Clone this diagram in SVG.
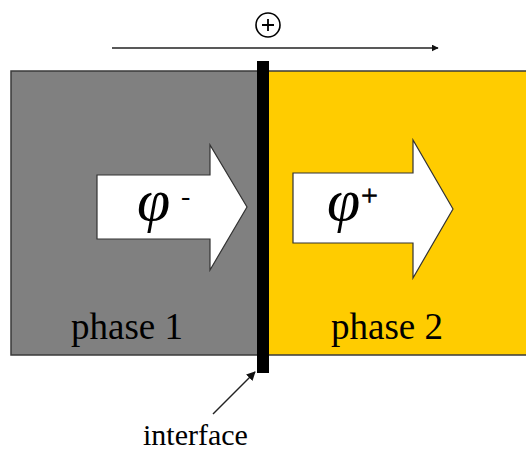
<svg xmlns="http://www.w3.org/2000/svg" width="526" height="452" viewBox="0 0 526 452">
<defs>
<style>
.phase{stroke:#3a3a3a;stroke-width:1.5}
.block{fill:#ffffff;stroke:#333333;stroke-width:1.2;stroke-linejoin:miter}
.lbl{font-family:"Liberation Serif","Times New Roman",serif;fill:#000}
.phi{font-family:"Liberation Serif","Times New Roman",serif;font-style:italic;fill:#000}
.ln{stroke:#222;stroke-width:1.5;fill:none}
</style>
<marker id="ah" viewBox="0 0 10 10" refX="9" refY="5" markerWidth="7" markerHeight="7" markerUnits="userSpaceOnUse" orient="auto">
<path d="M0,0 L10,5 L0,10 Z" fill="#111"/>
</marker>
<marker id="ah2" viewBox="0 0 10 10" refX="9" refY="5" markerWidth="9" markerHeight="9" markerUnits="userSpaceOnUse" orient="auto">
<path d="M0,0 L10,5 L0,10 Z" fill="#111"/>
</marker>
</defs>
<g id="phase1">
<rect class="phase" x="11" y="71" width="250" height="284" fill="#808080"/>
<text class="lbl" x="71" y="339" font-size="37">phase 1</text>
</g>
<g id="phase2">
<rect class="phase" x="262" y="71" width="270" height="284" fill="#ffcc00"/>
<text class="lbl" x="331" y="339" font-size="37">phase 2</text>
</g>
<g id="interface-bar">
<rect x="257" y="61" width="12" height="312" fill="#000"/>
</g>
<g id="flux-minus">
<path class="block" d="M97,175 L210,175 L210,145 L247,207 L210,270 L210,239 L97,239 Z"/>
<text class="phi" x="137" y="220" font-size="60">φ</text>
<text class="lbl" x="181" y="205" font-size="28">-</text>
</g>
<g id="flux-plus">
<path class="block" d="M293,173 L413,173 L413,140 L453,209 L413,278 L413,243 L293,243 Z"/>
<text class="phi" x="327" y="220" font-size="60">φ</text>
<text class="lbl" x="361" y="205" font-size="30" stroke="#000" stroke-width="0.6">+</text>
</g>
<g id="charge">
<circle cx="268" cy="25" r="12" fill="#fff" stroke="#000" stroke-width="1.6"/>
<path d="M262,25 H274 M268,19 V31" stroke="#000" stroke-width="1.8"/>
</g>
<g id="interface-label">
<text class="lbl" x="143" y="445" font-size="30">interface</text>
</g>
<g id="connectors">
<line class="ln" x1="112" y1="48" x2="438" y2="48" marker-end="url(#ah)"/>
<line class="ln" x1="213" y1="414" x2="255" y2="372" stroke-width="1.3" marker-end="url(#ah2)"/>
</g>
</svg>
